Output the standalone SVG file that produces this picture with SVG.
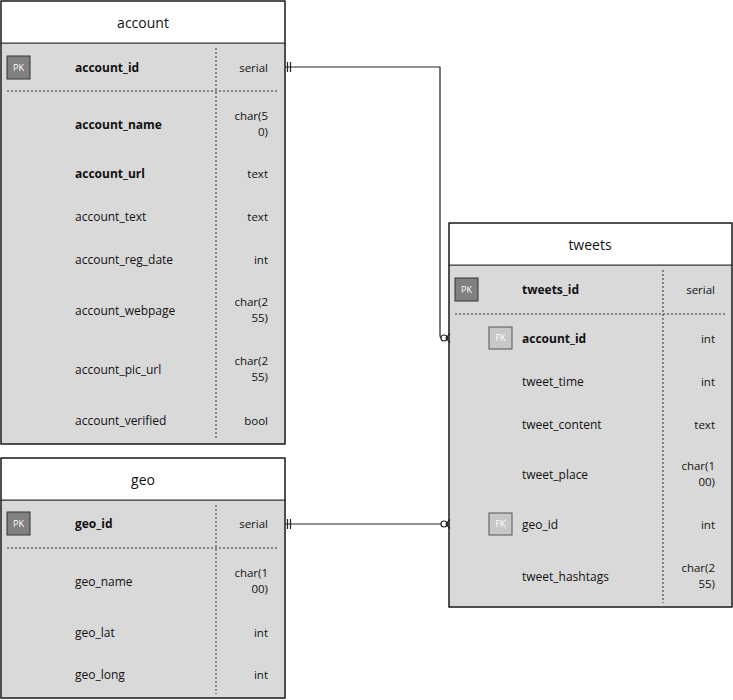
<svg xmlns="http://www.w3.org/2000/svg" width="733" height="700" viewBox="0 0 733 700">
<style>
.hdr{fill:#fff;stroke:#333;stroke-width:1}
.body{fill:#d9d9d9;stroke:#555;stroke-width:1.2}
.frame{fill:none;stroke:#222;stroke-width:1.2}
.div{stroke:#333;stroke-width:1;stroke-dasharray:2,2;fill:none}
.t{font-family:"Open Sans","Liberation Sans",sans-serif;font-size:12px;fill:#111}
.b{font-weight:bold}
.title{font-family:"Open Sans","Liberation Sans",sans-serif;font-size:14px;fill:#111;text-anchor:middle}
.ty{font-family:"Open Sans","Liberation Sans",sans-serif;font-size:11.5px;fill:#111;text-anchor:end}
.pk{fill:#808080;stroke:#333;stroke-width:1}
.fk{fill:#c8c8c8;stroke:#555;stroke-width:1}
.kt{font-family:"Open Sans","Liberation Sans",sans-serif;font-size:9px;fill:#fff;text-anchor:middle}
.ln{stroke:#222;stroke-width:1.2;fill:none}
</style>
<g id="account">
<rect class="body" x="1" y="43" width="284" height="401"/>
<rect class="hdr" x="1" y="1" width="284" height="42"/>
<rect class="frame" x="1" y="1" width="284" height="443"/>
<text class="title" x="143" y="28">account</text>
<line class="div" x1="216" y1="48" x2="216" y2="440"/>
<line class="div" x1="7" y1="91" x2="279" y2="91"/>
<rect class="pk" x="7" y="56" width="23" height="23"/>
<text class="kt" x="18.5" y="71">PK</text>
<text class="t b" x="75" y="72">account_id</text>
<text class="ty" x="268" y="72">serial</text>
<text class="t b" x="75" y="129">account_name</text>
<text class="ty" x="268" y="120">char(5</text>
<text class="ty" x="268" y="136">0)</text>
<text class="t b" x="75" y="178">account_url</text>
<text class="ty" x="268" y="178">text</text>
<text class="t" x="75" y="221">account_text</text>
<text class="ty" x="268" y="221">text</text>
<text class="t" x="75" y="264">account_reg_date</text>
<text class="ty" x="268" y="264">int</text>
<text class="t" x="75" y="315">account_webpage</text>
<text class="ty" x="268" y="306">char(2</text>
<text class="ty" x="268" y="322">55)</text>
<text class="t" x="75" y="374">account_pic_url</text>
<text class="ty" x="268" y="365">char(2</text>
<text class="ty" x="268" y="381">55)</text>
<text class="t" x="75" y="425">account_verified</text>
<text class="ty" x="268" y="425">bool</text>
</g>
<g id="geo">
<rect class="body" x="1" y="500" width="284" height="198"/>
<rect class="hdr" x="1" y="458" width="284" height="42"/>
<rect class="frame" x="1" y="458" width="284" height="240"/>
<text class="title" x="143" y="485">geo</text>
<line class="div" x1="216" y1="505" x2="216" y2="694"/>
<line class="div" x1="7" y1="548" x2="279" y2="548"/>
<rect class="pk" x="7" y="512" width="23" height="23"/>
<text class="kt" x="18.5" y="527">PK</text>
<text class="t b" x="75" y="528">geo_id</text>
<text class="ty" x="268" y="528">serial</text>
<text class="t" x="75" y="586">geo_name</text>
<text class="ty" x="268" y="577">char(1</text>
<text class="ty" x="268" y="593">00)</text>
<text class="t" x="75" y="637">geo_lat</text>
<text class="ty" x="268" y="637">int</text>
<text class="t" x="75" y="679">geo_long</text>
<text class="ty" x="268" y="679">int</text>
</g>
<g id="tweets">
<rect class="body" x="449" y="265" width="283" height="342"/>
<rect class="hdr" x="449" y="223" width="283" height="42"/>
<rect class="frame" x="449" y="223" width="283" height="384"/>
<text class="title" x="590" y="250">tweets</text>
<line class="div" x1="663" y1="270" x2="663" y2="603"/>
<line class="div" x1="455" y1="314" x2="726" y2="314"/>
<rect class="pk" x="455" y="278" width="23" height="23"/>
<text class="kt" x="466.5" y="293">PK</text>
<text class="t b" x="522" y="294">tweets_id</text>
<text class="ty" x="715" y="294">serial</text>
<rect class="fk" x="489" y="327" width="23" height="22"/>
<text class="kt" x="500.5" y="341">FK</text>
<text class="t b" x="522" y="343">account_id</text>
<text class="ty" x="715" y="343">int</text>
<text class="t" x="522" y="386">tweet_time</text>
<text class="ty" x="715" y="386">int</text>
<text class="t" x="522" y="429">tweet_content</text>
<text class="ty" x="715" y="429">text</text>
<text class="t" x="522" y="479">tweet_place</text>
<text class="ty" x="715" y="470">char(1</text>
<text class="ty" x="715" y="486">00)</text>
<rect class="fk" x="489" y="513" width="23" height="22"/>
<text class="kt" x="500.5" y="527">FK</text>
<text class="t" x="522" y="529">geo_id</text>
<text class="ty" x="715" y="529">int</text>
<text class="t" x="522" y="581">tweet_hashtags</text>
<text class="ty" x="715" y="572">char(2</text>
<text class="ty" x="715" y="588">55)</text>
</g>
<g id="connectors">
<path class="ln" d="M285,67 H440 V334 Q440,338 441,338"/>
<line class="ln" x1="287.5" y1="62" x2="287.5" y2="72"/>
<line class="ln" x1="290.5" y1="62" x2="290.5" y2="72"/>
<circle cx="444" cy="338" r="3" fill="#fff" stroke="#222" stroke-width="1.2"/>
<path class="ln" d="M447,338 H449 M450,333.5 L446,338 L450,342.5"/>
<path class="ln" d="M285,524 H441"/>
<line class="ln" x1="287.5" y1="519" x2="287.5" y2="529"/>
<line class="ln" x1="290.5" y1="519" x2="290.5" y2="529"/>
<circle cx="444" cy="524" r="3" fill="#fff" stroke="#222" stroke-width="1.2"/>
<path class="ln" d="M447,524 H449 M450,519.5 L446,524 L450,528.5"/>
</g>
</svg>
